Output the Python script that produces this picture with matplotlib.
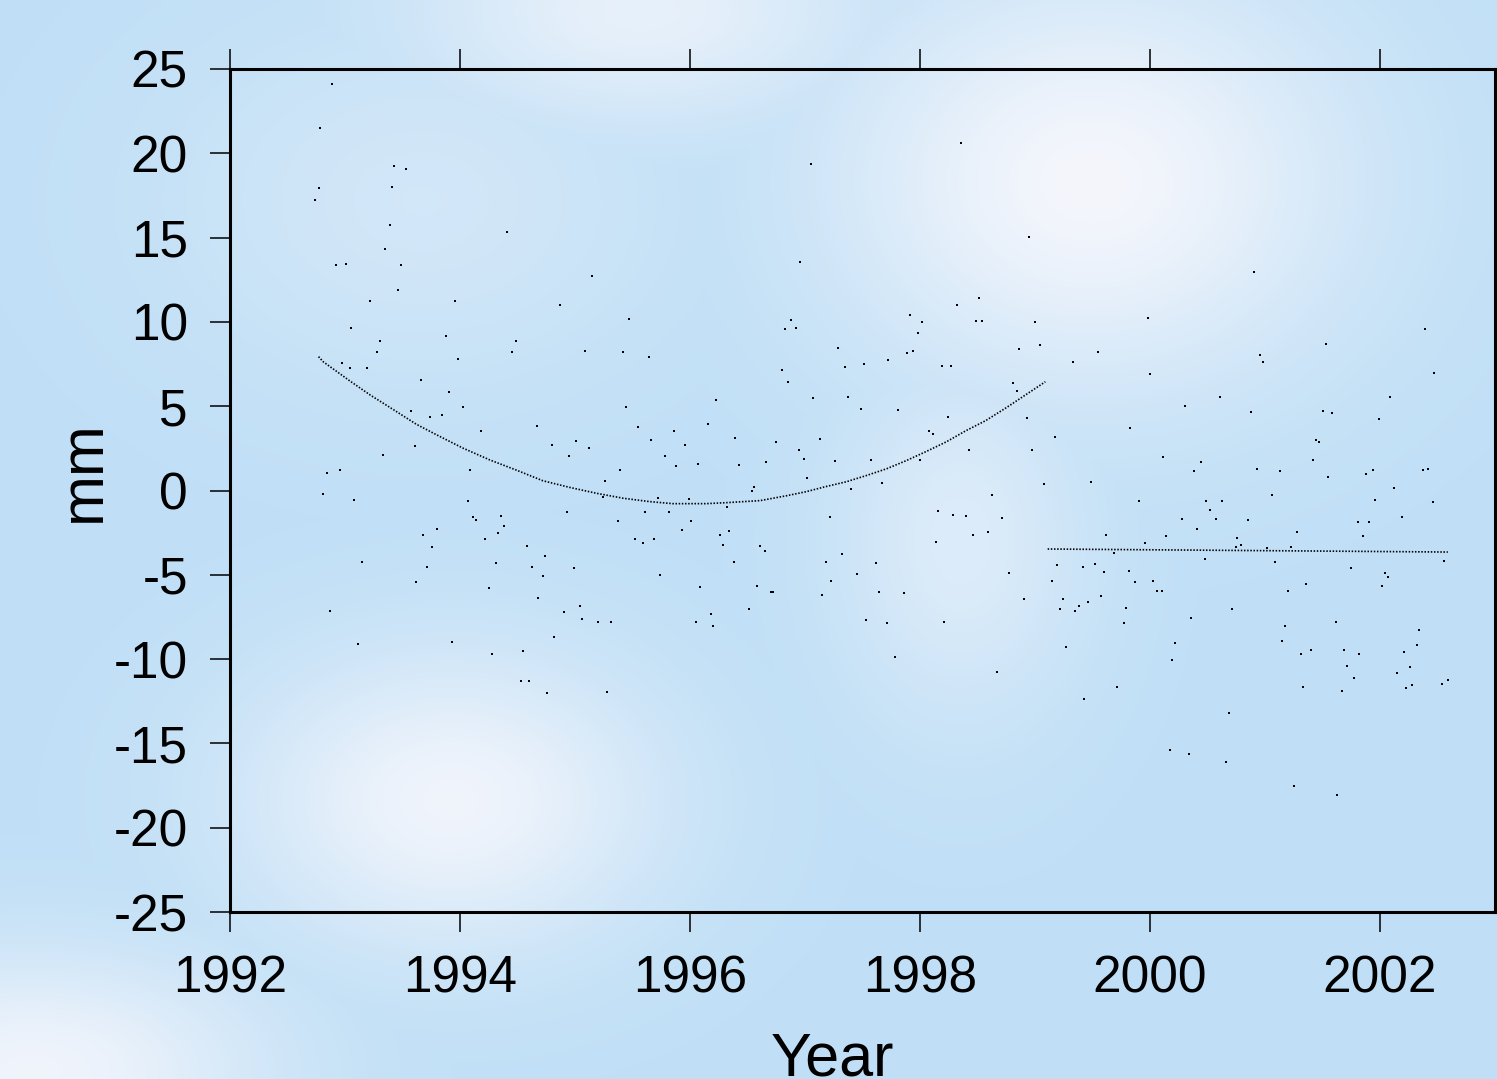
import numpy as np
import matplotlib
matplotlib.use("Agg")
import matplotlib.pyplot as plt

plt.rcParams['font.family'] = ['Liberation Sans', 'DejaVu Sans']
plt.rcParams['axes.unicode_minus'] = False

# observations (decimal year, mm)
obs_year = [
    1992.89, 1992.78, 1993.43, 1993.53, 1992.77, 1993.41, 1992.74, 1993.39, 1994.41, 1993.35,
    1992.92, 1993.01, 1993.49, 1995.15, 1993.46, 1993.22, 1993.96, 1994.87, 1995.47, 1993.05,
    1993.88, 1993.30, 1994.49, 1993.28, 1994.45, 1995.09, 1995.42, 1995.64, 1993.98, 1992.97,
    1993.04, 1993.19, 1993.66, 1993.90, 1994.03, 1995.44, 1993.57, 1993.74, 1993.84, 1994.67,
    1995.55, 1994.18, 1994.80, 1995.01, 1995.12, 1993.61, 1994.95, 1993.33, 1992.84, 1992.96,
    1994.09, 1995.39, 1995.26, 1995.24, 1992.81, 1993.08, 1994.07, 1994.93, 1995.61, 1995.37,
    1994.11, 1994.14, 1994.36, 1994.38, 1994.33, 1993.80, 1993.68, 1993.76, 1994.22, 1995.52,
    1995.59, 1994.58, 1994.74, 1993.15, 1994.31, 1993.71, 1994.63, 1994.99, 1994.72, 1993.62,
    1994.25, 1994.68, 1995.04, 1994.90, 1995.06, 1995.20, 1995.31, 1992.87, 1994.82, 1993.11,
    1993.93, 1994.28, 1994.55, 1994.53, 1994.60, 1994.76, 1995.28,
    1998.36, 1997.05, 1998.95, 1996.96, 1998.51, 1998.32, 1996.88, 1996.83, 1996.92, 1997.91,
    1998.02, 1998.49, 1998.54, 1999.00, 1997.98, 1997.29, 1998.86, 1999.04, 1997.89, 1997.94,
    1997.72, 1997.51, 1997.35, 1998.19, 1998.27, 1996.80, 1996.85, 1998.81, 1998.84, 1996.23,
    1997.07, 1997.37, 1997.49, 1997.81, 1998.24, 1998.93, 1996.16, 1995.86, 1998.08, 1998.11,
    1999.17, 1995.66, 1995.96, 1996.39, 1996.75, 1997.13, 1996.95, 1998.43, 1998.97, 1995.78,
    1996.99, 1997.26, 1997.57, 1998.00, 1995.88, 1996.07, 1996.43, 1996.66, 1997.02, 1996.56,
    1996.54, 1997.40, 1997.67, 1999.08, 1998.63, 1995.72, 1995.99, 1996.32, 1995.82, 1996.01,
    1997.22, 1998.16, 1998.29, 1998.40, 1998.71, 1995.93, 1996.26, 1996.34, 1998.46, 1998.59,
    1995.69, 1996.29, 1996.61, 1996.65, 1998.14, 1997.32, 1996.38, 1997.18, 1997.62, 1998.77,
    1999.19, 1999.15, 1995.74, 1997.45, 1997.23, 1996.09, 1996.58, 1996.70, 1996.72, 1997.15,
    1997.64, 1997.86, 1998.90, 1996.51, 1996.18, 1996.05, 1996.20, 1997.53, 1997.71, 1998.21,
    1997.78, 1998.67,
    2000.90, 1999.98, 2002.39, 1999.55, 2000.96, 2001.53, 1999.33, 2000.98, 2000.00, 2002.47,
    2000.61, 2002.09, 2000.30, 2000.88, 2001.50, 2001.58, 2001.99, 1999.83, 2001.44, 2001.47,
    2000.11, 2000.44, 2000.38, 2000.93, 2001.13, 2001.42, 2001.88, 2001.94, 2001.55, 2002.37,
    2002.42, 2002.12, 1999.49, 2001.06, 2001.96, 2002.46, 1999.90, 2000.49, 2000.63, 2000.52,
    2000.28, 2000.57, 2000.85, 2002.19, 2001.81, 2001.90, 2000.41, 1999.62, 2000.14, 2000.76,
    2001.28, 2001.85, 1999.96, 2000.75, 2000.79, 2001.02, 2001.23, 1999.69, 2000.48, 2001.09,
    2002.56, 1999.42, 1999.52, 1999.60, 1999.82, 2001.75, 2002.04, 2002.07, 1999.87, 2000.03,
    2000.06, 2000.10, 2001.20, 2001.36, 2002.02, 1999.24, 1999.57, 1999.22, 1999.35, 1999.38,
    1999.46, 1999.79, 2000.71, 2000.36, 1999.77, 2001.17, 2001.62, 2002.34, 1999.27, 2000.22,
    2001.15, 2002.32, 2000.19, 2001.31, 2001.40, 2001.69, 2001.82, 2002.21, 2001.71, 2002.26,
    2001.77, 2002.15, 1999.71, 2001.33, 2001.67, 2002.23, 2002.28, 2002.54, 2002.59, 1999.43,
    2000.69, 2000.17, 2000.34, 2000.66, 2001.25, 2001.63,
]
obs_mm = [
    24.13, 21.50, 19.26, 19.09, 17.96, 18.00, 17.23, 15.76, 15.33, 14.32,
    13.37, 13.43, 13.37, 12.74, 11.91, 11.26, 11.26, 11.02, 10.19, 9.66,
    9.18, 8.87, 8.87, 8.21, 8.21, 8.29, 8.21, 7.94, 7.82, 7.58,
    7.28, 7.28, 6.57, 5.86, 4.97, 4.97, 4.73, 4.36, 4.50, 3.83,
    3.78, 3.55, 2.70, 2.95, 2.52, 2.64, 2.06, 2.12, 1.04, 1.23,
    1.23, 1.23, 0.58, -0.37, -0.19, -0.55, -0.60, -1.26, -1.26, -1.81,
    -1.55, -1.73, -1.49, -2.09, -2.50, -2.27, -2.62, -3.33, -2.86, -2.86,
    -3.10, -3.27, -3.87, -4.22, -4.28, -4.52, -4.52, -4.58, -5.05, -5.41,
    -5.76, -6.36, -6.83, -7.19, -7.60, -7.78, -7.78, -7.13, -8.67, -9.09,
    -8.97, -9.68, -9.50, -11.28, -11.28, -11.99, -11.93,
    20.63, 19.38, 15.04, 13.57, 11.43, 11.02, 10.13, 9.60, 9.66, 10.43,
    10.01, 10.07, 10.07, 10.01, 9.36, 8.47, 8.41, 8.65, 8.17, 8.29,
    7.76, 7.52, 7.34, 7.40, 7.40, 7.16, 6.45, 6.39, 5.92, 5.39,
    5.50, 5.56, 4.85, 4.79, 4.38, 4.32, 3.96, 3.55, 3.55, 3.37,
    3.19, 3.01, 2.72, 3.13, 2.89, 3.07, 2.42, 2.42, 2.42, 2.06,
    1.89, 1.77, 1.83, 1.83, 1.47, 1.59, 1.53, 1.71, 0.76, 0.23,
    -0.01, 0.11, 0.46, 0.40, -0.25, -0.43, -0.49, -0.96, -1.26, -1.79,
    -1.55, -1.20, -1.44, -1.49, -1.61, -2.32, -2.62, -2.38, -2.62, -2.44,
    -2.86, -3.21, -3.27, -3.57, -3.04, -3.75, -4.22, -4.22, -4.28, -4.88,
    -4.40, -5.35, -4.99, -4.93, -5.35, -5.71, -5.65, -6.00, -6.00, -6.18,
    -6.00, -6.06, -6.42, -7.01, -7.31, -7.78, -8.02, -7.66, -7.84, -7.78,
    -9.86, -10.75,
    12.98, 10.25, 9.60, 8.23, 8.05, 8.71, 7.64, 7.64, 6.93, 6.99,
    5.56, 5.56, 5.03, 4.67, 4.73, 4.61, 4.26, 3.72, 3.01, 2.89,
    2.00, 1.71, 1.17, 1.29, 1.17, 1.83, 1.00, 1.23, 0.82, 1.23,
    1.29, 0.17, 0.52, -0.25, -0.55, -0.66, -0.60, -0.60, -0.60, -1.14,
    -1.67, -1.67, -1.73, -1.55, -1.85, -1.85, -2.27, -2.62, -2.68, -2.80,
    -2.44, -2.68, -3.10, -3.33, -3.21, -3.39, -3.33, -3.69, -4.04, -4.22,
    -4.16, -4.52, -4.34, -4.82, -4.76, -4.58, -4.88, -5.11, -5.41, -5.35,
    -5.94, -5.94, -5.94, -5.53, -5.65, -6.42, -6.24, -7.01, -7.13, -6.83,
    -6.60, -6.95, -7.01, -7.54, -7.84, -8.02, -7.78, -8.26, -9.26, -9.03,
    -8.91, -9.15, -10.04, -9.68, -9.44, -9.44, -9.68, -9.56, -10.39, -10.45,
    -11.10, -10.81, -11.64, -11.64, -11.87, -11.70, -11.52, -11.46, -11.22, -12.35,
    -13.18, -15.37, -15.61, -16.09, -17.51, -18.04,
]

# fitted curve before 1999
fit1_year = [1992.77, 1992.81, 1993.04, 1993.22, 1993.39, 1993.62, 1993.80, 1994.03,
             1994.26, 1994.49, 1994.72, 1994.95, 1995.19, 1995.42, 1995.65, 1995.85,
             1996.14, 1996.32, 1996.61, 1996.84, 1997.01, 1997.18, 1997.36, 1997.53,
             1997.71, 1997.88, 1998.05, 1998.23, 1998.40, 1998.57, 1998.75, 1998.92,
             1999.09]
fit1_mm = [7.94, 7.64, 6.51, 5.66, 4.93, 3.93, 3.29, 2.50,
           1.81, 1.21, 0.58, 0.19, -0.17, -0.46, -0.66, -0.78,
           -0.78, -0.72, -0.60, -0.31, -0.07, 0.23, 0.52, 0.88,
           1.29, 1.77, 2.30, 2.89, 3.55, 4.14, 4.91, 5.68,
           6.45]

# fitted line after 1999
fit2_year = [1999.11, 2002.59]
fit2_mm = [-3.47, -3.65]

xticks = [1992, 1994, 1996, 1998, 2000, 2002]
yticks = [25, 20, 15, 10, 5, 0, -5, -10, -15, -20, -25]

W, H = 1497, 1079
fig = plt.figure(figsize=(W / 100, H / 100), dpi=100)

# cloudy sky backdrop
yy, xx = np.mgrid[0:H:3, 0:W:3].astype(float)
base = np.array([192, 223, 246]) / 255.0
light = np.array([244, 246, 252]) / 255.0
blobs = [  # cx, cy, sx, sy, strength
    (1090, 180, 260, 210, 1.00),
    (960, 540, 130, 190, 0.55),
    (450, 800, 210, 150, 0.92),
    (30, 1070, 240, 120, 0.92),
    (640, 10, 240, 120, 0.75),
    (420, 200, 260, 190, 0.35),
]
w = np.zeros_like(xx)
for cx, cy, sx, sy, s in blobs:
    w = np.maximum(w, s * np.exp(-(((xx - cx) / sx) ** 2 + ((yy - cy) / sy) ** 2)))
img = base[None, None, :] * (1 - w[..., None]) + light[None, None, :] * w[..., None]
bg = fig.add_axes([0, 0, 1, 1], zorder=0)
bg.imshow(img, aspect='auto', interpolation='bilinear', extent=(0, W, H, 0))
bg.axis('off')

ax = fig.add_axes([230 / W, 1 - 912 / H, 1265 / W, 843 / H], zorder=1)
ax.set_facecolor('none')

ax.plot(obs_year, obs_mm, ls='none', marker='s', ms=1.6, mew=0, color='black')
ax.plot(fit1_year, fit1_mm, color='black', lw=1.2, ls=(0, (0.9, 1.0)))
ax.plot(fit2_year, fit2_mm, color='black', lw=1.2, ls=(0, (0.9, 1.0)))

ax.set_xlim(1992, 2003)
ax.set_ylim(-25, 25)
ax.set_xticks(xticks)
ax.set_yticks(yticks)
ax.set_yticklabels([str(v) for v in yticks])
ax.tick_params(direction='out', length=14.4, width=1.1, labelsize=37, pad=16,
               top=True, labeltop=False, right=False)
for sp in ax.spines.values():
    sp.set_linewidth(2.2)

fig.text(832 / W, 1 - 1076 / H, 'Year', ha='center', va='baseline', fontsize=44)
fig.text(100 / W, 1 - 471 / H, 'mm', rotation=90, rotation_mode='anchor',
         ha='center', va='baseline', fontsize=44)

fig.savefig('out.png', dpi=100)
